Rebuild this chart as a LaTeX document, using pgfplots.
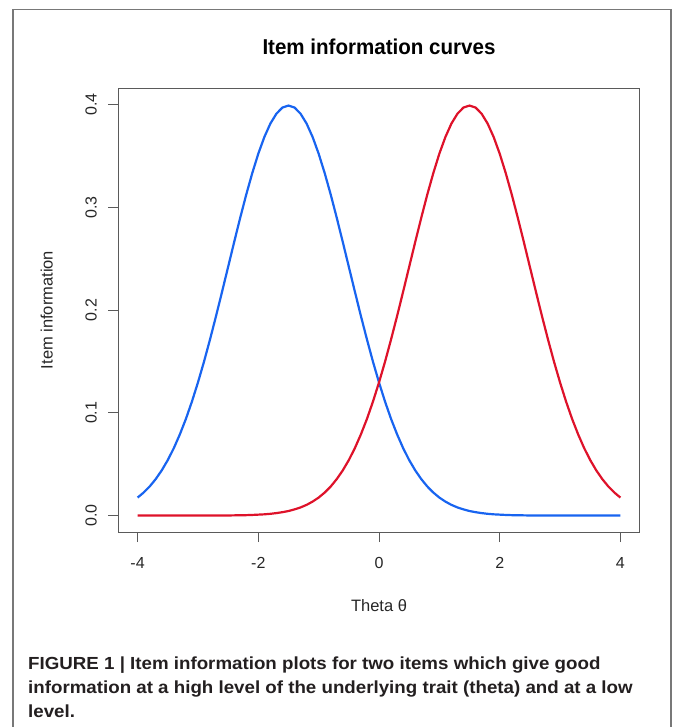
\documentclass[border=0pt]{standalone}
\usepackage{fontspec}
\setmainfont{Liberation Sans}
\usepackage{pgfplots}
\pgfplotsset{compat=1.18}
\definecolor{rblue}{RGB}{24,100,240}
\definecolor{rred}{RGB}{222,18,42}
\definecolor{boxgray}{RGB}{90,90,90}
\definecolor{framegray}{RGB}{120,120,120}
\definecolor{captext}{RGB}{35,31,32}
\begin{document}
\begin{tikzpicture}[x=1pt,y=1pt]
\useasboundingbox (0pt,0pt) rectangle (673pt,-727pt);
\draw[framegray,line width=1.5pt] (13pt,-730pt) -- (13pt,-9.5pt) -- (671pt,-9.5pt) -- (671pt,-730pt);
\begin{axis}[
  at={(118.3pt,-532pt)}, anchor=south west,
  scale only axis, width=521.4pt, height=444pt,
  xmin=-4.32, xmax=4.32, ymin=-0.016, ymax=0.416,
  xtick={-4,-2,0,2,4}, ytick={0,0.1,0.2,0.3,0.4},
  yticklabels={0.0,0.1,0.2,0.3,0.4},
  xtick pos=bottom, ytick pos=left, tick align=outside,
  major tick length=10pt,
  axis line style={boxgray, line width=1pt},
  every tick/.style={boxgray, line width=1pt},
  /pgf/number format/assume math mode=true,
  ticklabel style={font=\fontsize{16}{18}\selectfont, text=black!85},
  xticklabel style={yshift=-12pt},
  yticklabel style={xshift=-8pt, rotate=90, anchor=south},
]
\addplot[rblue, line width=2.2pt] coordinates {
(-4.0,0.0175)(-3.9,0.0224)(-3.8,0.0283)(-3.7,0.0355)(-3.6,0.0440)(-3.5,0.0540)
(-3.4,0.0656)(-3.3,0.0790)(-3.2,0.0940)(-3.1,0.1109)(-3.0,0.1295)(-2.9,0.1497)
(-2.8,0.1714)(-2.7,0.1942)(-2.6,0.2179)(-2.5,0.2420)(-2.4,0.2661)(-2.3,0.2897)
(-2.2,0.3123)(-2.1,0.3332)(-2.0,0.3521)(-1.9,0.3683)(-1.8,0.3814)(-1.7,0.3910)
(-1.6,0.3970)(-1.5,0.3989)(-1.4,0.3970)(-1.3,0.3910)(-1.2,0.3814)(-1.1,0.3683)
(-1.0,0.3521)(-0.9,0.3332)(-0.8,0.3123)(-0.7,0.2897)(-0.6,0.2661)(-0.5,0.2420)
(-0.4,0.2179)(-0.3,0.1942)(-0.2,0.1714)(-0.1,0.1497)(0.0,0.1295)(0.1,0.1109)
(0.2,0.0940)(0.3,0.0790)(0.4,0.0656)(0.5,0.0540)(0.6,0.0440)(0.7,0.0355)
(0.8,0.0283)(0.9,0.0224)(1.0,0.0175)(1.1,0.0136)(1.2,0.0104)(1.3,0.0079)
(1.4,0.0060)(1.5,0.0044)(1.6,0.0033)(1.7,0.0024)(1.8,0.0017)(1.9,0.0012)
(2.0,0.0009)(2.1,0.0006)(2.2,0.0004)(2.3,0.0003)(2.4,0.0002)(2.5,0.0001)
(2.6,0.0001)(3.0,0.0000)(3.5,0.0000)(4.0,0.0000)
};
\addplot[rred, line width=2.2pt] coordinates {
(-4.0,0.0000)(-3.5,0.0000)(-3.0,0.0000)(-2.6,0.0001)(-2.5,0.0001)(-2.4,0.0002)
(-2.3,0.0003)(-2.2,0.0004)(-2.1,0.0006)(-2.0,0.0009)(-1.9,0.0012)(-1.8,0.0017)
(-1.7,0.0024)(-1.6,0.0033)(-1.5,0.0044)(-1.4,0.0060)(-1.3,0.0079)(-1.2,0.0104)
(-1.1,0.0136)(-1.0,0.0175)(-0.9,0.0224)(-0.8,0.0283)(-0.7,0.0355)(-0.6,0.0440)
(-0.5,0.0540)(-0.4,0.0656)(-0.3,0.0790)(-0.2,0.0940)(-0.1,0.1109)(0.0,0.1295)
(0.1,0.1497)(0.2,0.1714)(0.3,0.1942)(0.4,0.2179)(0.5,0.2420)(0.6,0.2661)
(0.7,0.2897)(0.8,0.3123)(0.9,0.3332)(1.0,0.3521)(1.1,0.3683)(1.2,0.3814)
(1.3,0.3910)(1.4,0.3970)(1.5,0.3989)(1.6,0.3970)(1.7,0.3910)(1.8,0.3814)
(1.9,0.3683)(2.0,0.3521)(2.1,0.3332)(2.2,0.3123)(2.3,0.2897)(2.4,0.2661)
(2.5,0.2420)(2.6,0.2179)(2.7,0.1942)(2.8,0.1714)(2.9,0.1497)(3.0,0.1295)
(3.1,0.1109)(3.2,0.0940)(3.3,0.0790)(3.4,0.0656)(3.5,0.0540)(3.6,0.0440)
(3.7,0.0355)(3.8,0.0283)(3.9,0.0224)(4.0,0.0175)
};
\end{axis}
\node[font=\bfseries\fontsize{21.5}{24}\selectfont, text=black, anchor=base, xscale=0.956] at (379pt,-54.3pt) {Item information curves};
\node[font=\fontsize{16.5}{18}\selectfont, text=black!85, anchor=base] at (379pt,-611pt) {Theta θ};
\node[font=\fontsize{16.5}{18}\selectfont, text=black!85, rotate=90] at (46.7pt,-310pt) {Item information};
\begin{scope}[every node/.style={font=\bfseries\fontsize{17.5}{20}\selectfont, text=captext, anchor=base west, inner sep=0pt, xscale=1.07}]
\node at (28pt,-669pt) {FIGURE 1 | Item information plots for two items which give good};
\node at (28pt,-693.5pt) {information at a high level of the underlying trait (theta) and at a low};
\node at (28pt,-717.5pt) {level.};
\end{scope}
\end{tikzpicture}
\end{document}
